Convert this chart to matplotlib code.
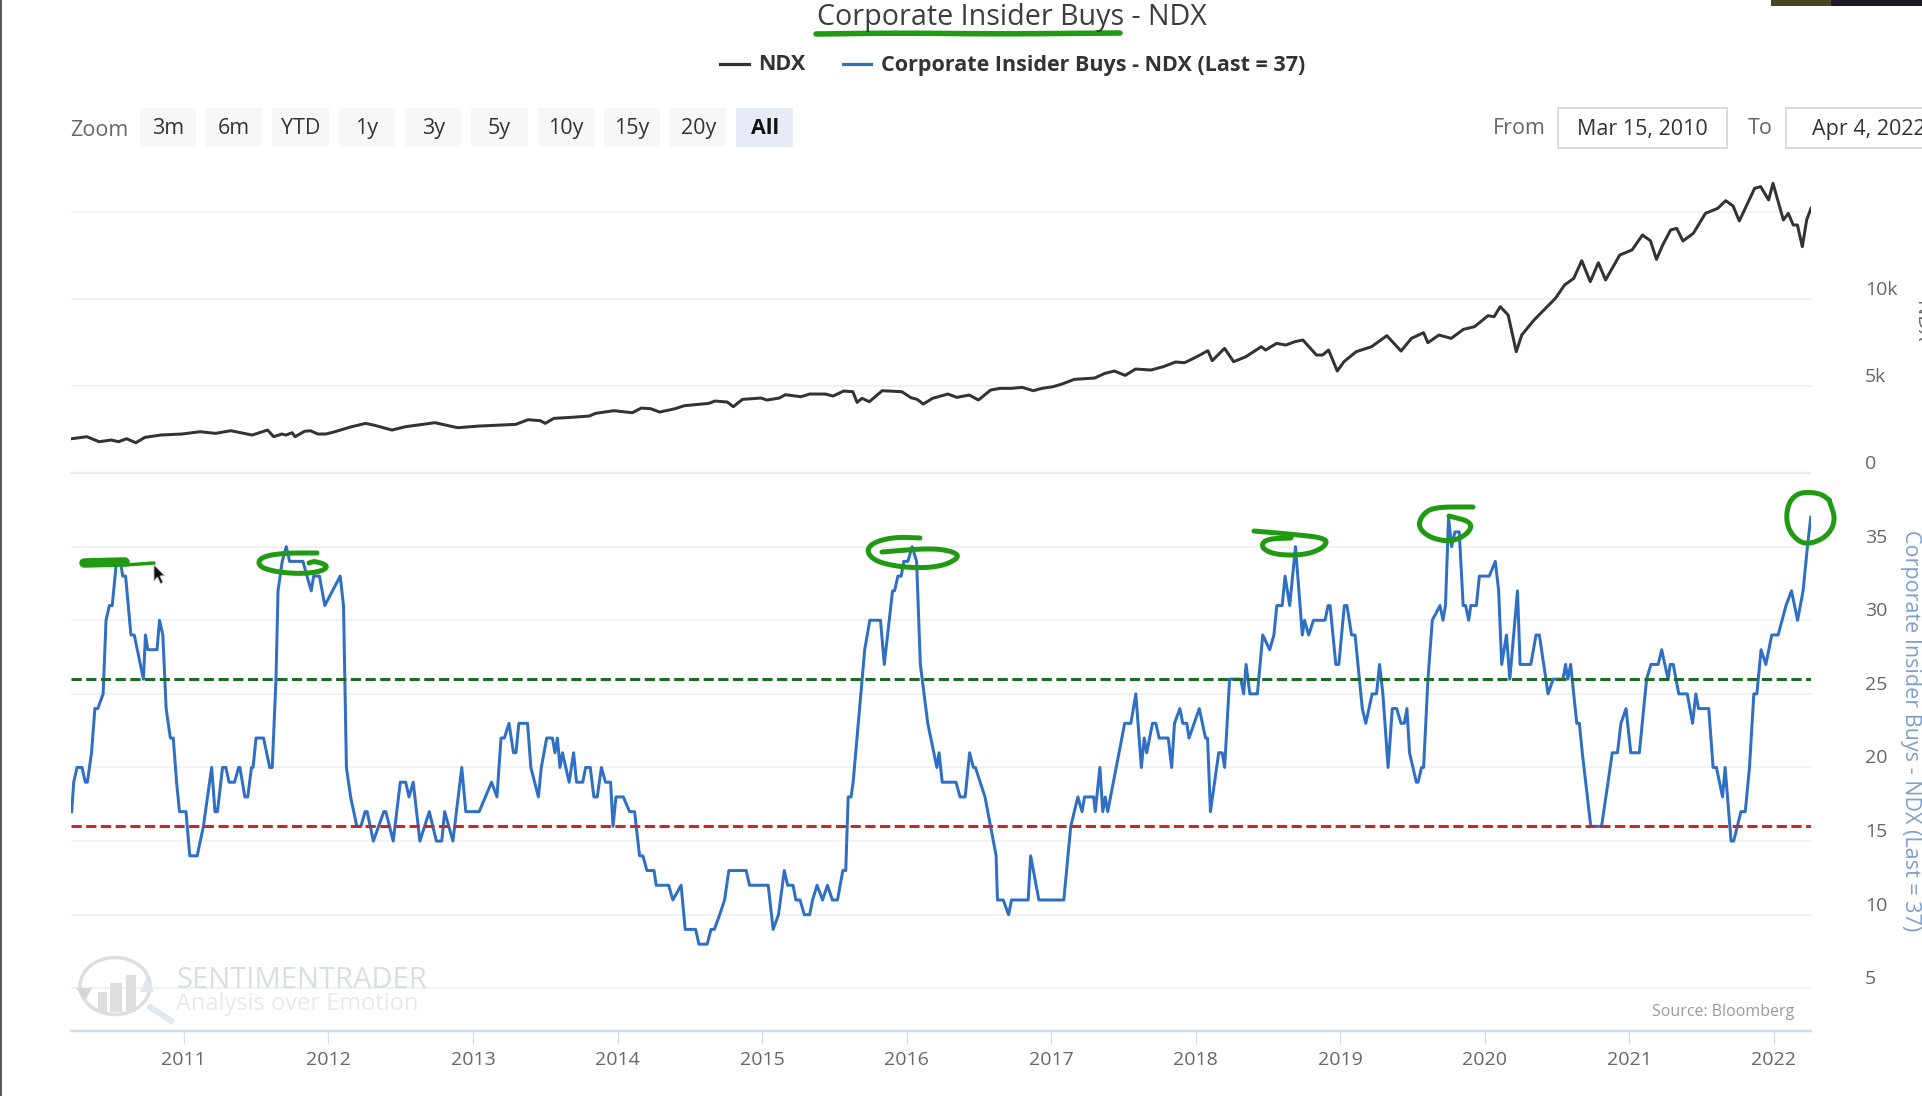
import numpy as np
import matplotlib
matplotlib.use("Agg")
import matplotlib.pyplot as plt
from matplotlib.patches import Rectangle, Ellipse, Polygon

plt.rcParams['font.family'] = ['Open Sans', 'DejaVu Sans']

W, H = 1922, 1096
PT = 0.72  # one pixel in points at dpi 100

# NDX (decimal year, index level)
ndx_years = [
    2010.223, 2010.329, 2010.414, 2010.498, 2010.549, 2010.604, 2010.668, 2010.731, 2010.838, 2010.986,
    2011.113, 2011.219, 2011.325, 2011.473, 2011.579, 2011.622, 2011.677, 2011.706, 2011.749, 2011.770,
    2011.834, 2011.876, 2011.927, 2011.982, 2012.046, 2012.152, 2012.258, 2012.321, 2012.440, 2012.533,
    2012.618, 2012.737, 2012.894, 2013.042, 2013.296, 2013.381, 2013.466, 2013.500, 2013.559, 2013.678,
    2013.805, 2013.847, 2013.974, 2014.102, 2014.165, 2014.229, 2014.292, 2014.398, 2014.462, 2014.631,
    2014.674, 2014.759, 2014.801, 2014.864, 2014.992, 2015.034, 2015.119, 2015.161, 2015.267, 2015.331,
    2015.437, 2015.492, 2015.564, 2015.628, 2015.657, 2015.691, 2015.742, 2015.831, 2015.967, 2016.030,
    2016.073, 2016.115, 2016.179, 2016.285, 2016.348, 2016.433, 2016.497, 2016.581, 2016.645, 2016.721,
    2016.800, 2016.876, 2016.936, 2017.012, 2017.075, 2017.160, 2017.300, 2017.372, 2017.436, 2017.512,
    2017.584, 2017.690, 2017.775, 2017.860, 2017.923, 2018.008, 2018.084, 2018.114, 2018.199, 2018.262,
    2018.347, 2018.453, 2018.483, 2018.559, 2018.623, 2018.686, 2018.741, 2018.835, 2018.877, 2018.919,
    2018.979, 2019.025, 2019.110, 2019.216, 2019.322, 2019.420, 2019.492, 2019.576, 2019.606, 2019.682,
    2019.767, 2019.852, 2019.928, 2020.022, 2020.064, 2020.106, 2020.161, 2020.217, 2020.255, 2020.340,
    2020.488, 2020.551, 2020.615, 2020.670, 2020.729, 2020.785, 2020.835, 2020.933, 2021.018, 2021.090,
    2021.145, 2021.187, 2021.230, 2021.285, 2021.327, 2021.370, 2021.442, 2021.526, 2021.611, 2021.666,
    2021.717, 2021.760, 2021.866, 2021.908, 2021.963, 2021.993, 2022.065, 2022.099, 2022.133, 2022.162,
    2022.196, 2022.226, 2022.256,
]
ndx_values = [
    1954, 2069, 1782, 1878, 1782, 1954, 1724, 2031, 2165, 2223,
    2357, 2261, 2414, 2165, 2452, 2069, 2223, 2165, 2299, 2069,
    2376, 2414, 2223, 2223, 2357, 2625, 2836, 2721, 2452, 2644,
    2740, 2874, 2587, 2682, 2778, 3046, 2989, 2836, 3123, 3181,
    3257, 3410, 3564, 3449, 3717, 3679, 3487, 3679, 3851, 3985,
    4119, 4062, 3794, 4215, 4292, 4177, 4292, 4483, 4368, 4522,
    4522, 4407, 4694, 4656, 4043, 4273, 4081, 4713, 4656, 4311,
    4215, 3947, 4273, 4522, 4330, 4464, 4177, 4752, 4847, 4847,
    4905, 4713, 4847, 4943, 5097, 5365, 5441, 5710, 5844, 5595,
    5959, 5901, 6093, 6361, 6323, 6668, 7013, 6438, 7147, 6380,
    6668, 7242, 7051, 7434, 7338, 7530, 7626, 6763, 6763, 7051,
    5844, 6380, 6955, 7242, 7875, 6993, 7721, 8047, 7472, 7913,
    7721, 8239, 8392, 9024, 8967, 9542, 9063, 6955, 7913, 8775,
    10021, 10787, 11170, 12186, 10979, 12071, 11074, 12511, 12799, 13661,
    13335, 12262, 13086, 13948, 14044, 13316, 13757, 14906, 15194, 15635,
    15328, 14466, 16343, 16439, 15673, 16631, 14523, 14906, 14236, 14236,
    12990, 14523, 15194,
]

# Corporate insider buys
buy_years = [
    2010.226, 2010.240, 2010.263, 2010.297, 2010.320, 2010.334, 2010.363, 2010.386, 2010.406, 2010.443,
    2010.463, 2010.486, 2010.506, 2010.535, 2010.563, 2010.578, 2010.598, 2010.635, 2010.658, 2010.721,
    2010.735, 2010.752, 2010.815, 2010.832, 2010.855, 2010.878, 2010.907, 2010.927, 2010.950, 2010.970,
    2011.015, 2011.041, 2011.092, 2011.135, 2011.192, 2011.215, 2011.232, 2011.267, 2011.290, 2011.312,
    2011.350, 2011.378, 2011.387, 2011.421, 2011.441, 2011.467, 2011.478, 2011.498, 2011.550, 2011.593,
    2011.610, 2011.636, 2011.650, 2011.679, 2011.707, 2011.730, 2011.822, 2011.850, 2011.879, 2011.896,
    2011.936, 2011.973, 2012.079, 2012.102, 2012.122, 2012.151, 2012.194, 2012.222, 2012.251, 2012.265,
    2012.308, 2012.380, 2012.394, 2012.445, 2012.494, 2012.531, 2012.554, 2012.583, 2012.629, 2012.694,
    2012.743, 2012.780, 2012.800, 2012.857, 2012.918, 2012.946, 2013.038, 2013.081, 2013.124, 2013.161,
    2013.189, 2013.212, 2013.244, 2013.275, 2013.292, 2013.312, 2013.372, 2013.395, 2013.447, 2013.467,
    2013.504, 2013.544, 2013.561, 2013.578, 2013.596, 2013.613, 2013.659, 2013.690, 2013.710, 2013.753,
    2013.773, 2013.805, 2013.830, 2013.853, 2013.882, 2013.910, 2013.945, 2013.962, 2013.982, 2014.033,
    2014.076, 2014.111, 2014.145, 2014.168, 2014.196, 2014.245, 2014.260, 2014.346, 2014.375, 2014.432,
    2014.460, 2014.532, 2014.555, 2014.612, 2014.638, 2014.661, 2014.698, 2014.732, 2014.761, 2014.881,
    2014.904, 2015.033, 2015.067, 2015.104, 2015.144, 2015.167, 2015.204, 2015.224, 2015.253, 2015.282,
    2015.319, 2015.339, 2015.370, 2015.408, 2015.442, 2015.476, 2015.511, 2015.548, 2015.568, 2015.585,
    2015.605, 2015.619, 2015.699, 2015.734, 2015.808, 2015.834, 2015.891, 2015.905, 2015.928, 2015.951,
    2015.968, 2015.997, 2016.026, 2016.057, 2016.083, 2016.134, 2016.197, 2016.212, 2016.234, 2016.329,
    2016.357, 2016.392, 2016.423, 2016.449, 2016.463, 2016.529, 2016.606, 2016.615, 2016.655, 2016.692,
    2016.712, 2016.827, 2016.844, 2016.901, 2017.073, 2017.121, 2017.170, 2017.199, 2017.216, 2017.279,
    2017.290, 2017.322, 2017.342, 2017.359, 2017.376, 2017.493, 2017.536, 2017.570, 2017.608, 2017.628,
    2017.645, 2017.685, 2017.708, 2017.731, 2017.794, 2017.817, 2017.837, 2017.874, 2017.894, 2017.922,
    2017.937, 2018.008, 2018.051, 2018.065, 2018.085, 2018.142, 2018.166, 2018.183, 2018.217, 2018.294,
    2018.314, 2018.331, 2018.357, 2018.409, 2018.446, 2018.494, 2018.523, 2018.543, 2018.580, 2018.600,
    2018.632, 2018.672, 2018.719, 2018.734, 2018.763, 2018.796, 2018.876, 2018.897, 2018.911, 2018.950,
    2018.971, 2019.009, 2019.027, 2019.059, 2019.083, 2019.113, 2019.133, 2019.157, 2019.201, 2019.231,
    2019.252, 2019.275, 2019.311, 2019.340, 2019.370, 2019.400, 2019.423, 2019.441, 2019.459, 2019.506,
    2019.518, 2019.542, 2019.556, 2019.586, 2019.616, 2019.669, 2019.690, 2019.707, 2019.728, 2019.749,
    2019.772, 2019.802, 2019.829, 2019.846, 2019.867, 2019.882, 2019.920, 2019.941, 2020.009, 2020.051,
    2020.074, 2020.095, 2020.128, 2020.151, 2020.204, 2020.222, 2020.296, 2020.332, 2020.355, 2020.415,
    2020.450, 2020.518, 2020.536, 2020.551, 2020.571, 2020.592, 2020.613, 2020.631, 2020.651, 2020.710,
    2020.784, 2020.829, 2020.858, 2020.894, 2020.918, 2020.953, 2020.986, 2021.045, 2021.095, 2021.125,
    2021.175, 2021.199, 2021.243, 2021.258, 2021.279, 2021.317, 2021.376, 2021.412, 2021.435, 2021.453,
    2021.524, 2021.554, 2021.577, 2021.619, 2021.637, 2021.678, 2021.696, 2021.746, 2021.776, 2021.805,
    2021.835, 2021.856, 2021.885, 2021.918, 2021.959, 2022.003, 2022.057, 2022.095, 2022.137, 2022.175,
    2022.205, 2022.228,
]
buy_values = [
    17, 19, 20, 20, 19, 19, 21, 24, 24, 25,
    30, 31, 31, 34, 34, 33, 33, 29, 29, 26,
    29, 28, 28, 30, 29, 24, 22, 22, 19, 17,
    17, 14, 14, 16, 20, 17, 17, 20, 20, 19,
    19, 20, 20, 18, 18, 20, 20, 22, 22, 20,
    20, 26, 32, 34, 35, 34, 34, 33, 32, 33,
    33, 31, 33, 31, 20, 18, 16, 16, 17, 17,
    15, 17, 17, 15, 19, 19, 18, 19, 15, 17,
    15, 15, 17, 15, 20, 17, 17, 18, 19, 18,
    22, 22, 23, 21, 21, 23, 23, 20, 18, 20,
    22, 22, 21, 22, 20, 21, 19, 21, 19, 19,
    20, 20, 18, 18, 20, 19, 19, 16, 18, 18,
    17, 17, 14, 14, 13, 13, 12, 12, 11, 12,
    9, 9, 8, 8, 9, 9, 10, 11, 13, 13,
    12, 12, 9, 10, 13, 12, 12, 11, 11, 10,
    10, 11, 12, 11, 12, 11, 11, 13, 13, 18,
    18, 19, 28, 30, 30, 27, 32, 32, 33, 33,
    34, 34, 35, 34, 27, 23, 20, 21, 19, 19,
    18, 18, 21, 20, 20, 18, 14, 11, 11, 10,
    11, 11, 14, 11, 11, 16, 18, 17, 18, 18,
    17, 20, 17, 18, 17, 23, 23, 25, 20, 22,
    21, 23, 23, 22, 22, 20, 23, 24, 23, 23,
    22, 24, 22, 22, 17, 21, 21, 20, 26, 26,
    25, 27, 25, 25, 29, 28, 29, 31, 31, 33,
    31, 35, 29, 30, 29, 30, 30, 31, 31, 27,
    27, 31, 31, 29, 29, 26, 24, 23, 25, 25,
    27, 25, 20, 24, 24, 23, 23, 24, 21, 19,
    19, 20, 20, 26, 30, 31, 30, 31, 37, 35,
    36, 36, 31, 31, 30, 31, 31, 33, 33, 34,
    32, 27, 29, 26, 32, 27, 27, 29, 29, 25,
    26, 26, 27, 26, 27, 25, 23, 23, 21, 16,
    16, 19, 21, 21, 23, 24, 21, 21, 26, 27,
    27, 28, 26, 27, 27, 25, 25, 23, 25, 24,
    24, 20, 20, 18, 20, 15, 15, 17, 17, 20,
    25, 25, 28, 27, 29, 29, 31, 32, 30, 32,
    35, 37,
]

year_ticks = list(range(2011, 2023))
ndx_ticks = [0, 5000, 10000, 15000]
ndx_tick_labels = ['0', '5k', '10k', '']
buy_ticks = [5, 10, 15, 20, 25, 30, 35]
high_level = 26
low_level = 16

range_buttons = ['3m', '6m', 'YTD', '1y', '3y', '5y', '10y', '15y', '20y', 'All']

# pen strokes drawn over the video, in pixels of the picture
pen_title = [(816, 34), (900, 33), (1000, 34), (1120, 33)]
pen_loops = [
    [(317, 553), (286, 553), (264, 556), (257, 563), (266, 570), (295, 574), (320, 572), (329, 566), (315, 561), (309, 563)],
    [(920, 538), (895, 537), (874, 542), (866, 551), (876, 562), (907, 568), (940, 567), (959, 558), (955, 552), (932, 548), (882, 552)],
    [(1254, 531), (1289, 534), (1327, 538), (1325, 547), (1306, 555), (1276, 555), (1261, 548), (1265, 539), (1291, 538)],
    [(1473, 507), (1434, 507), (1422, 515), (1418, 527), (1430, 538), (1452, 542), (1469, 533), (1472, 522), (1449, 516)],
    [(1829, 500), (1820, 493), (1799, 492), (1788, 503), (1786, 523), (1794, 538), (1807, 545), (1827, 537), (1836, 520), (1829, 500)],
]

GREEN = '#1f9a12'
BLUE = '#2f6fc4'
GRID = '#f2f2f2'
AXIS = '#d3dcea'
TEXT = '#666666'
UI_SIZE = 15.5


def axes_px(fig, left, top, right, bottom):
    return fig.add_axes([left / W, 1 - bottom / H, (right - left) / W, (bottom - top) / H])


def chaikin(points, rounds=3):
    pts = np.array(points, dtype=float)
    for _ in range(rounds):
        q = 0.75 * pts[:-1] + 0.25 * pts[1:]
        r = 0.25 * pts[:-1] + 0.75 * pts[1:]
        mid = np.empty((2 * len(q), 2))
        mid[0::2] = q
        mid[1::2] = r
        pts = np.vstack([pts[0], mid, pts[-1]])
    return pts


def style_panel(ax):
    ax.set_xlim(2010.216, 2022.256)
    ax.patch.set_alpha(0)
    for side in ['top', 'left', 'right', 'bottom']:
        ax.spines[side].set_visible(False)
    ax.grid(axis='y', color=GRID, lw=2 * PT)
    ax.set_axisbelow(True)
    ax.yaxis.tick_right()
    ax.tick_params(axis='y', length=0, pad=54 * PT, labelsize=14, labelcolor=TEXT)
    for lab in ax.get_yticklabels():
        lab.set_va('bottom')
        lab.set_ha('left')


fig = plt.figure(figsize=(W / 100, H / 100), dpi=100, facecolor='white')

# NDX panel
ax_top = axes_px(fig, 70.5, 177, 1811, 476.2)
ax_top.plot(ndx_years, ndx_values, color='#333333', lw=3 * PT, solid_joinstyle='round')
ax_top.set_ylim(-200, 16994)
ax_top.set_yticks(ndx_ticks)
ax_top.set_yticklabels(ndx_tick_labels)
ax_top.set_xticks([])
style_panel(ax_top)
ax_top.axhline(0, color='#e9e9e9', lw=2.5 * PT, zorder=1)

# insider buys panel, years were read at 144.9 px a year and the axis has 144.56
buy_x = 2011 + (np.array(buy_years) - 2011) * 1.00235
ax_low = axes_px(fig, 70.5, 510, 1811, 1031)
ax_low.plot(buy_x, buy_values, color=BLUE, lw=3 * PT, solid_joinstyle='round')
ax_low.axhline(high_level, color='#1d6a22', lw=3 * PT, dashes=(3.4, 1.5), zorder=4)
ax_low.axhline(low_level, color='#c9272c', lw=3 * PT, dashes=(3.4, 1.5), zorder=4)
ax_low.set_ylim(2.10, 37.49)
ax_low.set_yticks(buy_ticks)
ax_low.set_xticks(year_ticks)
ax_low.set_xticklabels([str(y) for y in year_ticks])
style_panel(ax_low)
ax_low.spines['bottom'].set_visible(True)
ax_low.spines['bottom'].set_color(AXIS)
ax_low.spines['bottom'].set_linewidth(2.5 * PT)
ax_low.tick_params(axis='x', length=13 * PT, width=1.2 * PT, color=AXIS, pad=5,
                   labelsize=14, labelcolor=TEXT)

# everything else sits on an overlay in picture pixels
ui = fig.add_axes([0, 0, 1, 1], zorder=5)
ui.set_xlim(0, W)
ui.set_ylim(H, 0)
ui.axis('off')

ui.text(1012, 17, 'Corporate Insider Buys - NDX', ha='center', va='center', fontsize=20.6, color='#3d3d3d')
ui.plot([720, 749], [63.5, 63.5], color='#333333', lw=3.2 * PT)
ui.text(758, 65, 'NDX', ha='left', va='center', fontsize=UI_SIZE, fontweight='bold', color='#333333')
ui.plot([842.5, 871], [63.5, 63.5], color=BLUE, lw=3.2 * PT)
ui.text(881, 65, 'Corporate Insider Buys - NDX (Last = 37)', ha='left', va='center',
        fontsize=UI_SIZE, fontweight='bold', color='#333333')

ui.text(70, 130, 'Zoom', ha='left', va='center', fontsize=UI_SIZE, color=TEXT)
for i, name in enumerate(range_buttons):
    x0 = 139.7 + i * 66.3
    active = name == 'All'
    ui.add_patch(Rectangle((x0, 108), 56.4, 39, facecolor='#e6ebf5' if active else '#f7f7f7', edgecolor='none'))
    ui.text(x0 + 28.2, 128.5, name, ha='center', va='center', fontsize=UI_SIZE,
            fontweight='bold' if active else 'normal', color='#111111' if active else '#333333')

ui.text(1493, 128.5, 'From', ha='left', va='center', fontsize=UI_SIZE, color=TEXT)
ui.add_patch(Rectangle((1558, 108), 169, 39.5, facecolor='white', edgecolor='#d8d8d8', lw=1.8 * PT))
ui.text(1642.5, 129, 'Mar 15, 2010', ha='center', va='center', fontsize=UI_SIZE, color='#333333')
ui.text(1748, 128.5, 'To', ha='left', va='center', fontsize=UI_SIZE, color=TEXT)
ui.add_patch(Rectangle((1786, 108), 170, 39.5, facecolor='white', edgecolor='#d8d8d8', lw=1.8 * PT))
ui.text(1811.5, 129, 'Apr 4, 2022', ha='left', va='center', fontsize=UI_SIZE, color='#333333')

ui.text(1910, 731, 'Corporate Insider Buys - NDX (Last = 37)', rotation=270, ha='center', va='center',
        fontsize=UI_SIZE, color='#7f9fc9')
ui.text(1921, 322, 'NDX', rotation=270, ha='center', va='center', fontsize=14.5, color=TEXT)
ui.text(1794, 1012, 'Source: Bloomberg', ha='right', va='center', fontsize=11.5, color='#9a9a9a')

# watermark
ui.add_patch(Ellipse((115, 986), 70, 57, facecolor='none', edgecolor='#dedede', lw=3.5 * PT))
for bx, bw, btop in [(98, 9, 992), (110, 12, 983), (126, 10, 975)]:
    ui.add_patch(Rectangle((bx, btop), bw, 1012 - btop, facecolor='#dedede', edgecolor='none'))
ui.plot([150, 171.5], [1007, 1021], color='#dfe8ee', lw=6 * PT, solid_capstyle='round')
ui.add_patch(Polygon([(76, 988), (92, 988), (85, 1001)], facecolor='#d6d6d6', edgecolor='none'))
ui.add_patch(Polygon([(140, 992), (154, 992), (147, 977)], facecolor='#dfe8ee', edgecolor='none'))
ui.text(176, 980, 'SENTIMENTRADER', ha='left', va='center', fontsize=21, color='#d7dee4')
ui.text(176, 1004, 'Analysis over Emotion', ha='left', va='center', fontsize=17, color='#e6e9ec')

# top right corner of the video and the left window edge
ui.add_patch(Rectangle((1771, 0), 151, 6, facecolor='#1c1c28', edgecolor='none'))
ui.add_patch(Rectangle((1771, 0), 60, 6, facecolor='#4d4424', edgecolor='none'))
ui.add_patch(Rectangle((0, 0), 1.6, H, facecolor='#5a5a5a', edgecolor='none'))

# pen marks
line = chaikin(pen_title, 2)
ui.plot(line[:, 0], line[:, 1], color=GREEN, lw=5.5 * PT, solid_capstyle='round')
ui.plot([84, 125], [563, 562], color=GREEN, lw=9.5 * PT, solid_capstyle='round')
ui.plot([125, 154], [565, 563], color=GREEN, lw=3.5 * PT, solid_capstyle='round')
for loop in pen_loops:
    line = chaikin(loop)
    ui.plot(line[:, 0], line[:, 1], color=GREEN, lw=5 * PT, solid_capstyle='round', solid_joinstyle='round')

# mouse pointer
ui.add_patch(Polygon([(154, 565), (154, 581), (157.5, 577), (160.5, 583.5), (163, 582.5), (160, 576), (164.5, 575.5)],
                     facecolor='#111111', edgecolor='#bbbbbb', lw=0.6))

fig.savefig('out.png', dpi=100)
